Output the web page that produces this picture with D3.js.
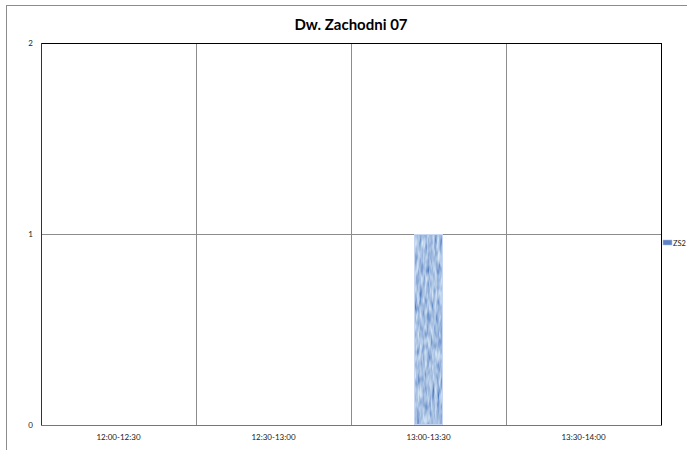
<!DOCTYPE html>
<html><head><meta charset="utf-8">
<script src="https://cdn.jsdelivr.net/npm/d3@7"></script>
<style>body{margin:0;background:#fff}svg{display:block}</style>
</head><body>
<script>
const title = "Dw. Zachodni 07";
const categories = ["12:00-12:30","12:30-13:00","13:00-13:30","13:30-14:00"];
const seriesName = "ZS2";
const values = [0, 0, 1, 0];
const yTicks = [0, 1, 2];

const W = 687, H = 450;
const m = {left: 41, right: 26, top: 43, bottom: 25};
const svg = d3.select("body").append("svg").attr("width", W).attr("height", H);
const font = "Lato, 'Open Sans', sans-serif";

// texture filter
const defs = svg.append("defs");
const f = defs.append("filter").attr("id","tex").attr("x",0).attr("y",0).attr("width",1).attr("height",1);
f.append("feTurbulence").attr("type","fractalNoise").attr("baseFrequency","0.4 0.08").attr("numOctaves",2).attr("seed",5).attr("result","n");
f.append("feColorMatrix").attr("in","n").attr("type","matrix")
  .attr("values","0.85 0 0 0 -0.04  0.85 0 0 0 0.1  0.55 0 0 0 0.48  0 0 0 0 1").attr("result","c");
f.append("feComposite").attr("in","c").attr("in2","SourceGraphic").attr("operator","in");

// outer frame
svg.append("rect").attr("x",6.5).attr("y",5.5).attr("width",W+10).attr("height",H+10)
  .attr("fill","none").attr("stroke","#8c8c8c").attr("stroke-width",1);

const x = d3.scaleBand().domain(categories).range([m.left, W - m.right]);
const y = d3.scaleLinear().domain([0, 2]).range([H - m.bottom, m.top]);

const g = svg.append("g");
// horizontal grid
g.selectAll(".hg").data(yTicks.filter(t => t > 0 && t < 2)).enter().append("line")
  .attr("x1", m.left).attr("x2", W - m.right)
  .attr("y1", d => Math.round(y(d)) + 0.5).attr("y2", d => Math.round(y(d)) + 0.5)
  .attr("stroke","#8c8c8c");
// vertical grid
g.selectAll(".vg").data(categories.slice(1)).enter().append("line")
  .attr("x1", d => Math.round(x(d)) + 0.5).attr("x2", d => Math.round(x(d)) + 0.5)
  .attr("y1", m.top).attr("y2", H - m.bottom)
  .attr("stroke","#8c8c8c");

// bars
const bw = 29;
const barData = values.map((v,i)=>({c:categories[i],v})).filter(d=>d.v>0);
g.selectAll(".bar").data(barData).enter().append("rect")
  .attr("x", d => x(d.c) + x.bandwidth()/2 - bw/2)
  .attr("y", d => y(d.v))
  .attr("width", bw).attr("height", d => y(0) - y(d.v))
  .attr("fill","#6d8cca").attr("filter","url(#tex)");
g.selectAll(".barb").data(barData).enter().append("rect")
  .attr("x", d => x(d.c) + x.bandwidth()/2 - bw/2 + 0.5)
  .attr("y", d => y(d.v) + 0.5)
  .attr("width", bw - 1).attr("height", d => y(0) - y(d.v) - 1)
  .attr("fill","none").attr("stroke","#c7d6f2").attr("stroke-width",1);

// plot border
svg.append("line").attr("x1",m.left).attr("x2",W-m.right+0.5).attr("y1",m.top+0.5).attr("y2",m.top+0.5).attr("stroke","#000");
svg.append("line").attr("x1",W-m.right+0.5).attr("x2",W-m.right+0.5).attr("y1",m.top).attr("y2",H-m.bottom).attr("stroke","#000");
svg.append("line").attr("x1",m.left+0.5).attr("x2",m.left+0.5).attr("y1",m.top).attr("y2",H-m.bottom).attr("stroke","#333");
svg.append("line").attr("x1",m.left).attr("x2",W-m.right+1).attr("y1",H-m.bottom+0.5).attr("y2",H-m.bottom+0.5).attr("stroke","#777");

// y labels
svg.selectAll(".yl").data(yTicks).enter().append("text")
  .attr("x", 33).attr("y", d => y(d)).attr("dy","0.35em").attr("text-anchor","end")
  .attr("font-family",font).attr("font-size","8px").attr("fill","#222").text(d => d);
// x labels
svg.selectAll(".xl").data(categories).enter().append("text")
  .attr("x", d => x(d) + x.bandwidth()/2).attr("y", H - m.bottom + 15)
  .attr("text-anchor","middle").attr("font-family",font).attr("font-size","8px").attr("fill","#222").text(d => d);

// title
svg.append("text").attr("x", 351).attr("y", 30).attr("text-anchor","middle")
  .attr("font-family",font).attr("font-weight","bold").attr("font-size","15px").attr("fill","#000").text(title);

// legend
svg.append("rect").attr("x",663).attr("y",240).attr("width",9).attr("height",5).attr("fill","#5f82c4").attr("stroke","#a9c0ec").attr("stroke-width",0.5);
svg.append("text").attr("x",673).attr("y",243).attr("dy","0.35em").attr("font-family",font).attr("font-size","7.5px").attr("fill","#222").text(seriesName);
</script>
</body></html>
